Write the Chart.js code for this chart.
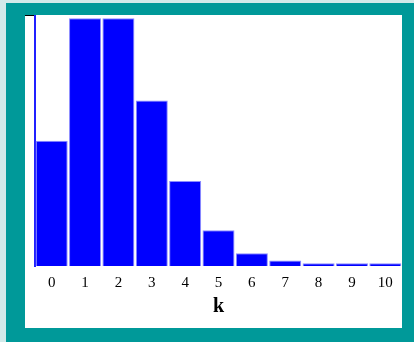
<!DOCTYPE html>
<html>
<head>
<meta charset="utf-8">
<script src="https://cdn.jsdelivr.net/npm/chart.js@4"></script>
<style>
  html, body { margin: 0; padding: 0; }
  body { width: 414px; height: 342px; background: #d2eaea; position: relative; overflow: hidden; }
  #frame { position: absolute; left: 6px; top: 3px; width: 408px; height: 339px; background: #009999; }
  #panel { position: absolute; left: 19px; top: 12px; width: 377px; height: 313px; background: #fff; }
</style>
</head>
<body>
<div id="frame">
  <div id="panel"><canvas id="poissonChart" width="377" height="313"></canvas></div>
</div>
<script>
const kValues = ['0', '1', '2', '3', '4', '5', '6', '7', '8', '9', '10'];
const probabilities = [0.137, 0.271, 0.271, 0.181, 0.093, 0.039, 0.014, 0.006, 0.003, 0.003, 0.003];
const yMax = 0.2745;

const ctx = document.getElementById('poissonChart');

new Chart(ctx, {
    type: 'bar',
    data: {
        labels: kValues,
        datasets: [
            {
                label: 'P(k)',
                data: probabilities,
                backgroundColor: '#0000ff',
                borderColor: '#8c8cff',
                borderWidth: 1,
                categoryPercentage: 1,
                barPercentage: 0.96,
            },
        ],
    },
    options: {
        responsive: false,
        animation: false,
        layout: {
            padding: { top: 0, right: 0, bottom: 9, left: 0 },
        },
        scales: {
            x: {
                grid: { display: false, drawTicks: false },
                border: { display: false },
                ticks: {
                    color: '#000',
                    padding: 8,
                    font: { family: '"Liberation Serif", serif', size: 15 },
                },
                title: {
                    display: true,
                    text: 'k',
                    color: '#000',
                    padding: { top: -5, bottom: 0 },
                    font: { family: '"Liberation Serif", serif', size: 20, weight: 'bold' },
                },
            },
            y: {
                min: 0,
                max: yMax,
                afterBuildTicks: function (axis) {
                    axis.ticks = [{ value: yMax }];
                },
                afterFit: function (axis) {
                    axis.width = 10;
                },
                ticks: { display: false },
                grid: {
                    drawOnChartArea: false,
                    color: '#000',
                    tickLength: 10,
                    lineWidth: 2,
                },
                border: { color: '#2020ff', width: 2 },
            },
        },
        plugins: {
            legend: { display: false },
            tooltip: { enabled: false },
        },
    },
});
</script>
</body>
</html>
